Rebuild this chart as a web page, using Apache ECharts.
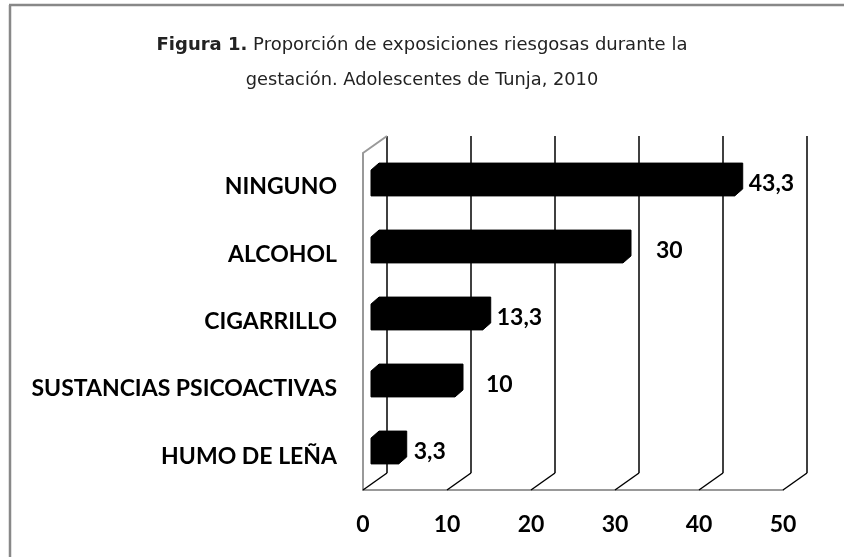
<!DOCTYPE html>
<html>
<head>
<meta charset="utf-8">
<script src="https://cdn.jsdelivr.net/npm/echarts@6/dist/echarts.min.js"></script>
<style>
  html, body { margin: 0; padding: 0; background: #fff; }
  #chart { width: 844px; height: 557px; }
</style>
</head>
<body>
<div id="chart"></div>
<script>
// categorias de arriba hacia abajo
const categories = ['NINGUNO', 'ALCOHOL', 'CIGARRILLO', 'SUSTANCIAS PSICOACTIVAS', 'HUMO DE LEÑA'];
const values = [43.3, 30, 13.3, 10, 3.3];
const ticks = [0, 10, 20, 30, 40, 50];
// separacion de cada etiqueta respecto a la barra (estilo)
const labelGaps = [6, 25, 6, 23, 7];

const DX = 24, DY = 17;      // profundidad de la pared
const BX = 8, BY = 7;        // bisel de las barras
const labelFont = 'Lato, "Open Sans", sans-serif';
const titleFont = '"DejaVu Sans", Verdana, sans-serif';

let chart = echarts.init(document.getElementById('chart'));

let option = {
  animation: false,
  backgroundColor: '#fff',
  title: [{
    left: 'center',
    top: 36,
    padding: 0,
    text: '{b|Figura 1.} Proporción de exposiciones riesgosas durante la',
    textStyle: {
      color: '#222',
      fontSize: 18,
      fontWeight: 'normal',
      fontFamily: titleFont,
      rich: {
        b: { fontWeight: 'bold', fontSize: 18, fontFamily: titleFont, color: '#222' }
      }
    }
  }, {
    left: 'center',
    top: 71,
    padding: 0,
    text: 'gestación. Adolescentes de Tunja, 2010',
    textStyle: {
      color: '#222',
      fontSize: 17.8,
      fontWeight: 'normal',
      fontFamily: titleFont
    }
  }],
  graphic: [
    { type: 'line', shape: { x1: 9, y1: 5, x2: 844, y2: 5 }, style: { stroke: '#888', lineWidth: 2.5 } },
    { type: 'line', shape: { x1: 10, y1: 5, x2: 10, y2: 557 }, style: { stroke: '#888', lineWidth: 2.5 } }
  ],
  grid: [
    // pared del fondo
    { left: 387, top: 136, width: 420, height: 337 },
    // piso / frente
    { left: 363, top: 153, width: 420, height: 337 },
    // barras (a media profundidad)
    { left: 371, top: 146, width: 420, height: 335 }
  ],
  xAxis: [
    {
      gridIndex: 0, type: 'value', min: 0, max: 50, interval: 10,
      axisLine: { show: false }, axisTick: { show: false }, axisLabel: { show: false },
      splitLine: { show: true, lineStyle: { color: '#000', width: 1.5 } }
    },
    {
      gridIndex: 1, type: 'value', min: 0, max: 50, interval: 10,
      axisLine: { show: true, lineStyle: { color: '#999', width: 2 } },
      axisTick: { show: false },
      splitLine: { show: false },
      axisLabel: {
        margin: 23, color: '#000', fontSize: 23, fontWeight: 'bold', fontFamily: labelFont
      }
    },
    {
      gridIndex: 2, type: 'value', min: 0, max: 50, show: false
    }
  ],
  yAxis: [
    { gridIndex: 0, type: 'category', data: categories, inverse: true, show: false },
    {
      gridIndex: 1, type: 'category', data: categories, inverse: true,
      axisLine: { show: true, lineStyle: { color: '#999', width: 2 } },
      axisTick: { show: false },
      axisLabel: {
        margin: 26, color: '#000', fontSize: 23, fontWeight: 'bold', fontFamily: labelFont,
        padding: [6, 0, 0, 0]
      }
    },
    { gridIndex: 2, type: 'category', data: categories, inverse: true, show: false }
  ],
  series: [
    {
      // diagonales del piso y borde superior de la pared izquierda
      type: 'custom',
      xAxisIndex: 1,
      yAxisIndex: 1,
      silent: true,
      data: ticks,
      renderItem: (params, api) => {
        let sys = params.coordSys;
        let x = api.coord([api.value(0), 0])[0];
        let yb = sys.y + sys.height;
        let children = [{
          type: 'line',
          shape: { x1: x, y1: yb, x2: x + DX, y2: yb - DY },
          style: { stroke: '#000', lineWidth: 1.5 }
        }];
        if (api.value(0) === 0) {
          children.push({
            type: 'line',
            shape: { x1: x, y1: sys.y, x2: x + DX, y2: sys.y - DY },
            style: { stroke: '#999', lineWidth: 2 }
          });
        }
        return { type: 'group', children: children };
      }
    },
    {
      type: 'custom',
      xAxisIndex: 2,
      yAxisIndex: 2,
      data: values.map((v, i) => [v, i]),
      renderItem: (params, api) => {
        let v = api.value(0);
        let i = api.value(1);
        let p0 = api.coord([0, i]);
        let p1 = api.coord([v, i]);
        let h = api.size([0, 1])[1] * 0.49;
        let top = p0[1] - h / 2, bot = p0[1] + h / 2;
        let x0 = p0[0], x1 = p1[0];
        return {
          type: 'group',
          children: [{
            type: 'polygon',
            shape: {
              points: [
                [x0, top + BY], [x0 + BX, top], [x1 + BX, top],
                [x1 + BX, bot - BY], [x1, bot], [x0, bot]
              ]
            },
            style: { fill: '#000', stroke: '#000', lineWidth: 1 }
          }, {
            type: 'text',
            x: x1 + BX + labelGaps[params.dataIndex],
            y: p0[1] + 4,
            style: {
              text: String(v).replace('.', ','),
              fill: '#000',
              font: 'bold 23px ' + labelFont,
              align: 'left',
              verticalAlign: 'middle'
            }
          }]
        };
      }
    }
  ]
};
chart.setOption(option);
</script>
</body>
</html>
